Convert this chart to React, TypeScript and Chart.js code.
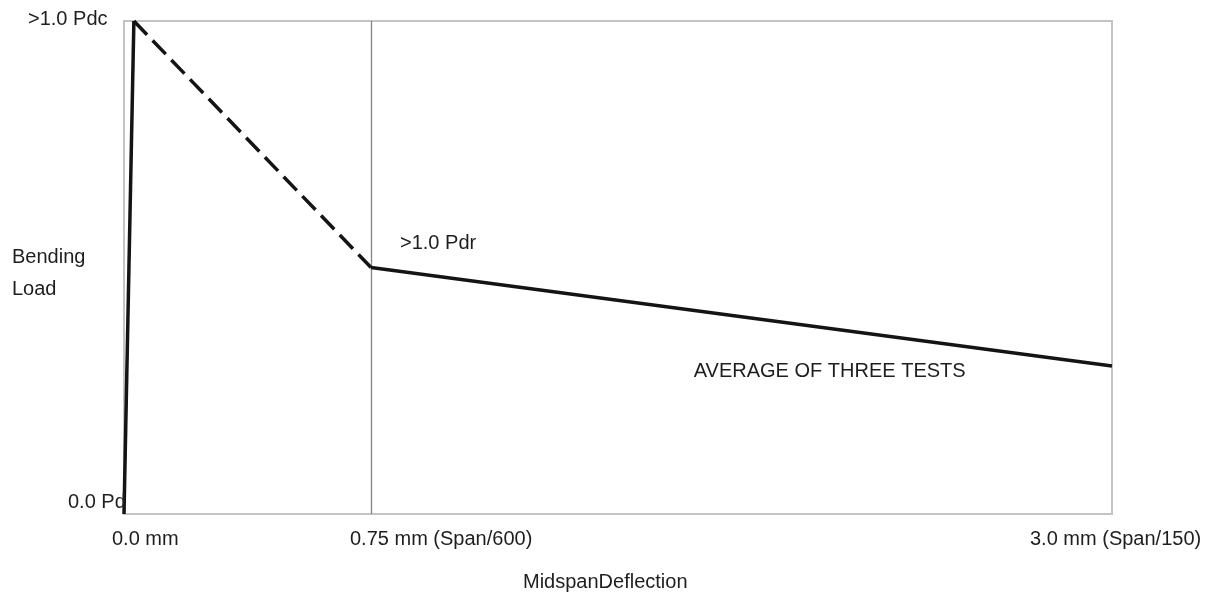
import React, { useEffect, useRef } from "react";
import { Chart, registerables } from "chart.js";

Chart.register(...registerables);

// Data (midspan deflection in mm, bending load as fraction of Pd)
const deflection = [0, 0.03, 0.75, 3.0];
const load = [0, 1.0, 0.5, 0.3];
const dashedSegments = [1]; // segment index drawn dashed

const xTickValues = [0, 0.75, 3.0];
const xTickLabels = ["0.0 mm", "0.75 mm (Span/600)", "3.0 mm (Span/150)"];
const yTickValues = [1.0, 0];
const yTickLabels = [">1.0 Pdc", "0.0 Pd"];
const yAxisTitle = ["Bending", "Load"];
const xAxisTitle = "MidspanDeflection";
const markerLine = 0.75;
const annotations = [
  { x: 0.75, y: 0.5, text: ">1.0 Pdr" },
  { x: 1.73, y: 0.3, text: "AVERAGE OF THREE TESTS" },
];

const FONT = '20px "Liberation Sans", Arial, sans-serif';
const TEXT = "#1e1e1e";

const decorPlugin = {
  id: "decor",
  beforeDatasetsDraw(chart: any) {
    const { ctx, chartArea: a, scales } = chart;
    ctx.save();
    // frame
    ctx.strokeStyle = "#c4c4c4";
    ctx.lineWidth = 2;
    ctx.strokeRect(a.left, a.top, a.right - a.left, a.bottom - a.top);
    // vertical marker line
    const vx = Math.round(scales.x.getPixelForValue(markerLine)) + 0.5;
    ctx.strokeStyle = "#858585";
    ctx.lineWidth = 1.3;
    ctx.beginPath();
    ctx.moveTo(vx, a.top);
    ctx.lineTo(vx, a.bottom);
    ctx.stroke();
    ctx.restore();
  },
  afterDraw(chart: any) {
    const { ctx, chartArea: a, scales } = chart;
    const xs = scales.x;
    const ys = scales.y;
    ctx.save();
    ctx.font = FONT;
    ctx.fillStyle = TEXT;
    ctx.textBaseline = "alphabetic";
    ctx.textAlign = "left";
    // x tick labels
    const xOffsets = [-12, -21, -82];
    xTickValues.forEach((v, i) => {
      ctx.fillText(xTickLabels[i], xs.getPixelForValue(v) + xOffsets[i], a.bottom + 31);
    });
    // y tick labels
    ctx.fillText(yTickLabels[0], 28, ys.getPixelForValue(yTickValues[0]) + 4);
    ctx.fillText(yTickLabels[1], 68, ys.getPixelForValue(yTickValues[1]) - 6);
    // y axis title
    ctx.fillText(yAxisTitle[0], 12, 263);
    ctx.fillText(yAxisTitle[1], 12, 295);
    // x axis title
    ctx.fillText(xAxisTitle, 523, 588);
    // annotations
    ctx.fillText(annotations[0].text, xs.getPixelForValue(annotations[0].x) + 29, ys.getPixelForValue(annotations[0].y) - 19);
    ctx.fillText(annotations[1].text, xs.getPixelForValue(annotations[1].x), ys.getPixelForValue(annotations[1].y) + 11);
    ctx.restore();
  },
};

export default function App() {
  const ref = useRef<HTMLCanvasElement | null>(null);
  useEffect(() => {
    if (!ref.current) return;
    const chart = new Chart(ref.current, {
      type: "line",
      data: {
        datasets: [
          {
            data: deflection.map((x, i) => ({ x, y: load[i] })),
            borderColor: "#141414",
            borderWidth: 3.5,
            pointRadius: 0,
            tension: 0,
            clip: false as any,
            segment: {
              borderDash: (c: any) => (dashedSegments.includes(c.p0DataIndex) ? [19, 8] : undefined),
            },
          },
        ],
      },
      plugins: [decorPlugin],
      options: {
        responsive: false,
        animation: false,
        devicePixelRatio: 1,
        layout: { padding: { left: 124, top: 21, right: 101, bottom: 78 } },
        plugins: { legend: { display: false }, tooltip: { enabled: false } },
        scales: {
          x: { type: "linear", min: 0, max: 3, display: false },
          y: { type: "linear", min: 0, max: 1, display: false },
        },
      },
    });
    return () => chart.destroy();
  }, []);
  return (
    <div style={{ position: "absolute", left: 0, top: 0, width: 1213, height: 592, background: "#fff" }}>
      <canvas ref={ref} width={1213} height={592} style={{ width: 1213, height: 592 }} />
    </div>
  );
}
